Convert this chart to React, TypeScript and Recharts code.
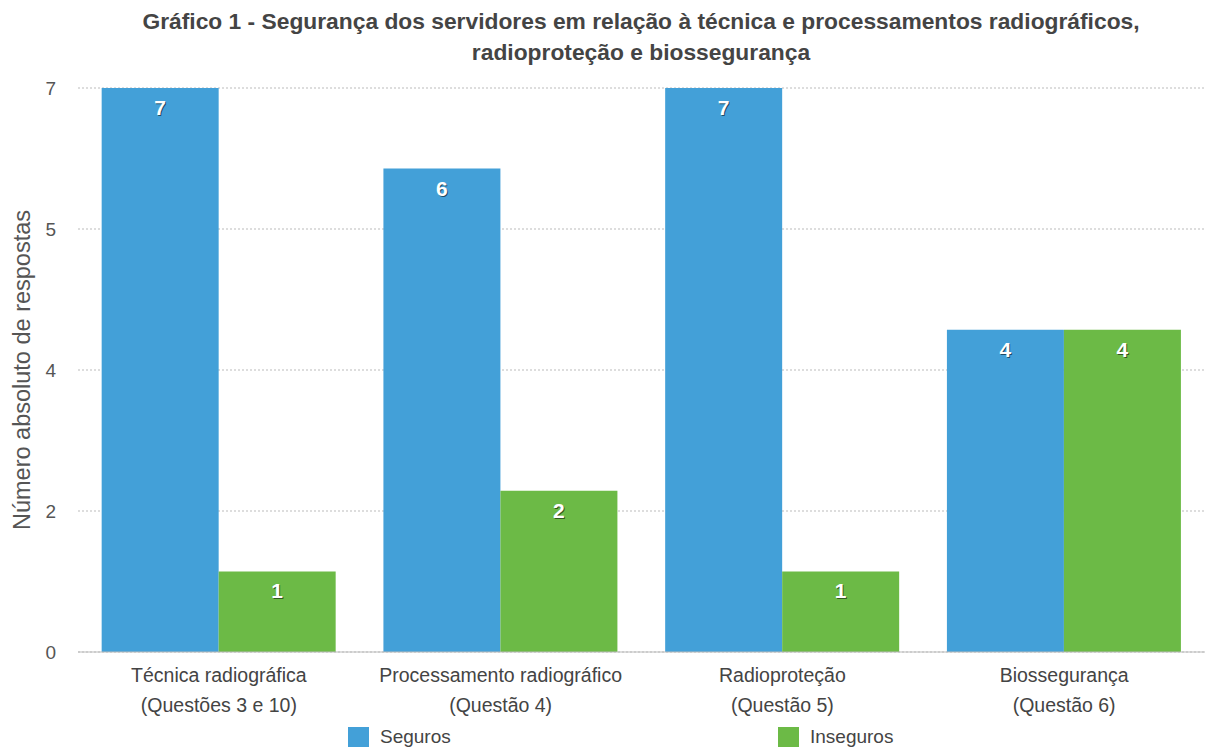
import { BarChart, Bar, XAxis, YAxis, CartesianGrid, LabelList } from 'recharts';

const categories = ['Técnica radiográfica', 'Processamento radiográfico', 'Radioproteção', 'Biossegurança'];
const questions = ['(Questões 3 e 10)', '(Questão 4)', '(Questão 5)', '(Questão 6)'];
const seguros = [7, 6, 7, 4];
const inseguros = [1, 2, 1, 4];
const yTicks = [0, 1.75, 3.5, 5.25, 7];

const BLUE = '#43a0d8';
const GREEN = '#6cba46';
const FONT = '"Liberation Sans", Arial, Helvetica, sans-serif';

const data = categories.map((c, i) => ({
  name: c,
  sub: questions[i],
  seguros: seguros[i],
  inseguros: inseguros[i],
}));

function CatTick({ x, y, payload, index }: any) {
  return (
    <g>
      <text x={x} y={y + 22} textAnchor="middle" fontSize={19.5} fill="#444" fontFamily={FONT}>
        {payload.value}
      </text>
      <text x={x} y={y + 52} textAnchor="middle" fontSize={19.5} fill="#444" fontFamily={FONT}>
        {questions[index]}
      </text>
    </g>
  );
}

function ValueLabel({ x, y, width, value }: any) {
  const cx = x + width / 2;
  return (
    <g fontFamily={FONT} fontSize={21} fontWeight="bold" textAnchor="middle">
      <text x={cx + 1} y={y + 28} fill="rgba(0,0,0,0.55)">{value}</text>
      <text x={cx} y={y + 27} fill="#fff">{value}</text>
    </g>
  );
}

export default function App() {
  return (
    <div style={{ position: 'absolute', left: 0, top: 0, width: 1205, height: 749, background: '#fff', fontFamily: FONT }}>
      <div style={{
        position: 'absolute', left: 0, top: 6, width: 1282, textAlign: 'center',
        fontSize: 22.8, fontWeight: 'bold', color: '#444', lineHeight: '31px',
      }}>
        Gráfico 1 - Segurança dos servidores em relação à técnica e processamentos radiográficos,<br />
        radioproteção e biossegurança
      </div>
      <div style={{
        position: 'absolute', left: 22, top: 370, transform: 'translate(-50%, -50%) rotate(-90deg)',
        whiteSpace: 'nowrap', fontSize: 23.5, color: '#555',
      }}>
        Número absoluto de respostas
      </div>

      <BarChart
        width={1205}
        height={749}
        data={data}
        margin={{ top: 88, right: 0, bottom: 0, left: 0 }}
        barCategoryGap="8.4%"
        barGap={0}
      >
        <CartesianGrid vertical={false} stroke="#bbb" strokeDasharray="2 2" />
        <XAxis
          dataKey="name"
          tick={<CatTick />}
          tickLine={false}
          axisLine={{ stroke: '#bbb' }}
          interval={0}
          height={97}
        />
        <YAxis
          width={78}
          domain={[0, 7]}
          ticks={yTicks}
          tickFormatter={(v) => String(Math.round(v))}
          tick={{ fontSize: 19, fill: '#555', fontFamily: FONT }}
          tickLine={false}
          tickSize={0}
          tickMargin={22}
          axisLine={false}
        />
        <Bar dataKey="seguros" fill={BLUE} isAnimationActive={false}>
          <LabelList dataKey="seguros" content={<ValueLabel />} />
        </Bar>
        <Bar dataKey="inseguros" fill={GREEN} isAnimationActive={false}>
          <LabelList dataKey="inseguros" content={<ValueLabel />} />
        </Bar>
      </BarChart>

      <div style={{ position: 'absolute', left: 348, top: 726, display: 'flex', alignItems: 'center', fontSize: 19, color: '#444' }}>
        <span style={{ width: 21, height: 20, background: BLUE, display: 'inline-block', marginRight: 11 }} />
        Seguros
      </div>
      <div style={{ position: 'absolute', left: 778, top: 726, display: 'flex', alignItems: 'center', fontSize: 19, color: '#444' }}>
        <span style={{ width: 21, height: 20, background: GREEN, display: 'inline-block', marginRight: 11 }} />
        Inseguros
      </div>
    </div>
  );
}
